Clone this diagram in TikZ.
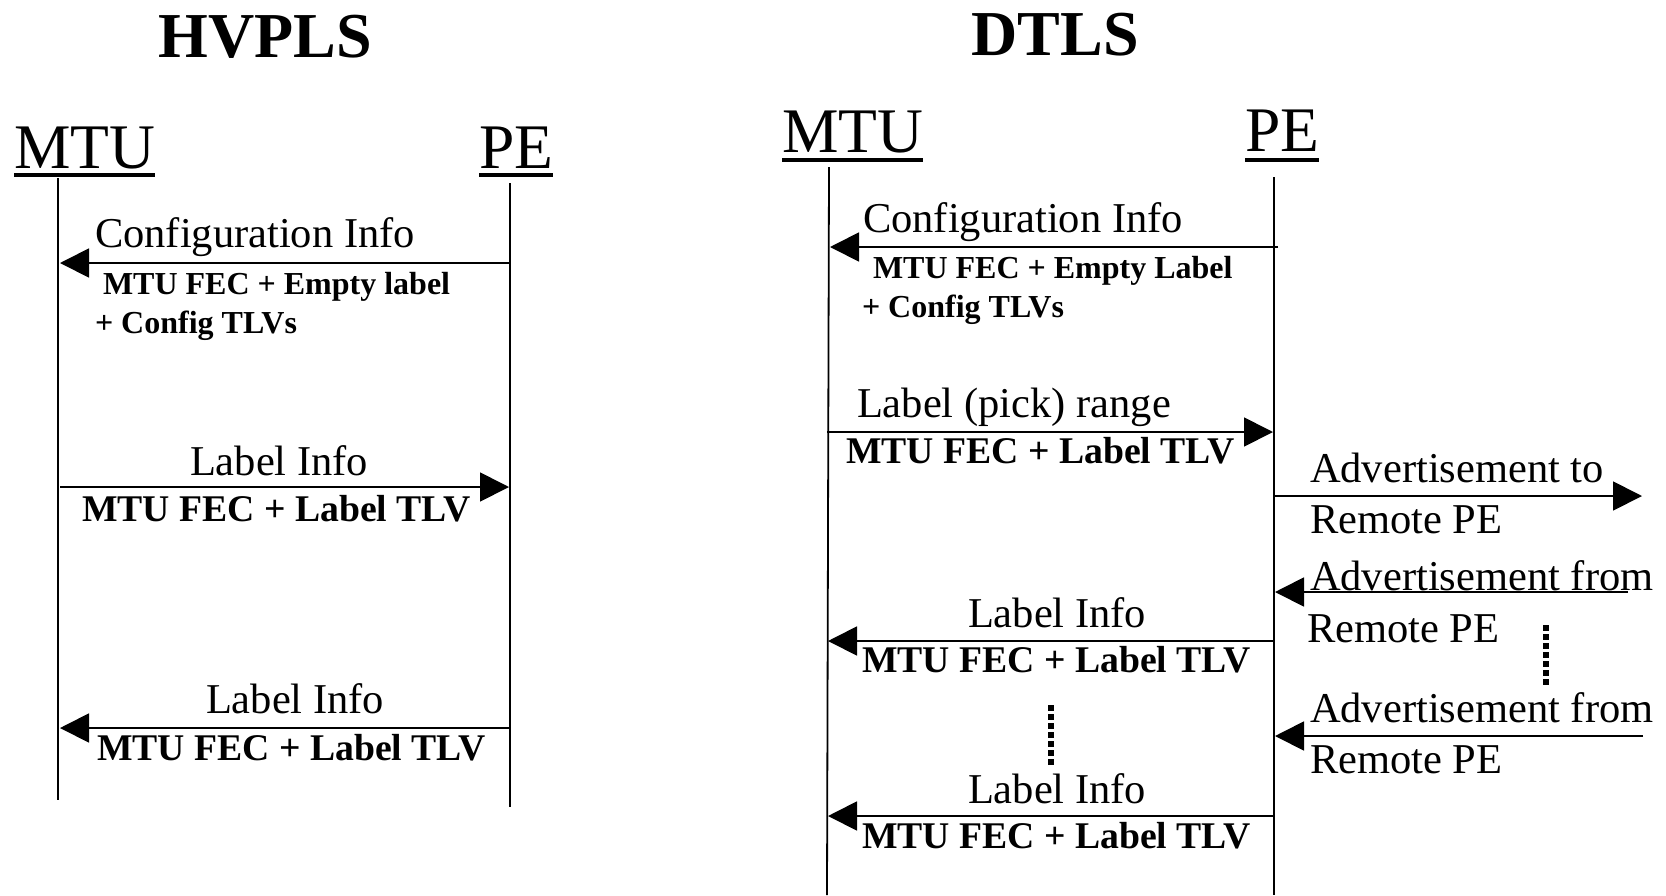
\documentclass[tikz,border=0pt]{standalone}
\usepackage{fontspec}
\setmainfont{Liberation Serif}
\usetikzlibrary{arrows.meta}
\begin{document}
\begin{tikzpicture}[x=1pt,y=-1pt,
  txt/.style={anchor=base west,inner sep=0pt,outer sep=0pt},
  ttl/.style={inner sep=0pt,anchor=base,font=\fontsize{64}{70}\selectfont\bfseries},
  actor/.style={txt,font=\fontsize{63.5}{70}\selectfont},
  msg/.style={txt,font=\fontsize{42.5}{48}\selectfont},
  lbl/.style={txt,font=\fontsize{37.7}{42}\selectfont\bfseries},
  sml/.style={txt,font=\fontsize{32}{36}\selectfont\bfseries},
  life/.style={line width=1.8pt},
  msgarrow/.style={line width=1.8pt,-{Triangle[length=29pt,width=29pt]}},
  ul/.style={line width=3.5pt},
  dots/.style={line width=6pt,dash pattern=on 6pt off 3pt}
]
\useasboundingbox (0,0) rectangle (1666,895);

% ---------------- HVPLS ----------------
\node[ttl] (t1) at (265,57) {HVPLS};
\node[actor] (mtu1) at (14,168) {MTU};
\node[actor] (pe1) at (479,168) {PE};
\draw[ul] ([yshift=-7pt]mtu1.base west) -- ([yshift=-7pt]mtu1.base east);
\draw[ul] ([yshift=-7pt]pe1.base west) -- ([yshift=-7pt]pe1.base east);

\coordinate (m1top) at (58,178);
\coordinate (m1bot) at (58,800);
\coordinate (p1top) at (510,183);
\coordinate (p1bot) at (510,807);
\draw[life] (m1top) -- (m1bot);
\draw[life] (p1top) -- (p1bot);

\coordinate (h1s) at (510,263);
\coordinate (h1e) at (60,263);
\draw[msgarrow] (h1s) -- (h1e);
\node[msg] (h1a) at (95,247) {Configuration Info};
\node[sml] (h1b) at (103,294) {MTU FEC + Empty label};
\node[sml] (h1c) at (95,333) {+ Config TLVs};

\coordinate (h2s) at (60,487);
\coordinate (h2e) at (509,487);
\draw[msgarrow] (h2s) -- (h2e);
\node[msg] (h2a) at (190,475) {Label Info};
\node[lbl] (h2b) at (82,521) {MTU FEC + Label TLV};

\coordinate (h3s) at (510,728);
\coordinate (h3e) at (60,728);
\draw[msgarrow] (h3s) -- (h3e);
\node[msg] (h3a) at (206,713) {Label Info};
\node[lbl] (h3b) at (97,760) {MTU FEC + Label TLV};

% ---------------- DTLS ----------------
\node[ttl] (t2) at (1055,55) {DTLS};
\node[actor] (mtu2) at (782,152) {MTU};
\node[actor] (pe2) at (1245,151) {PE};
\draw[ul] ([yshift=-8pt]mtu2.base west) -- ([yshift=-8pt]mtu2.base east);
\draw[ul] ([yshift=-9pt]pe2.base west) -- ([yshift=-9pt]pe2.base east);

\coordinate (m2top) at (829,167);
\coordinate (m2bot) at (827,895);
\coordinate (p2top) at (1274,177);
\coordinate (p2bot) at (1274,895);
\draw[life] (m2top) -- (m2bot);
\draw[life] (p2top) -- (p2bot);

\coordinate (d1s) at (1278,247);
\coordinate (d1e) at (830,247);
\draw[msgarrow] (d1s) -- (d1e);
\node[msg] (d1a) at (863,232) {Configuration Info};
\node[sml] (d1b) at (873,278) {MTU FEC + Empty Label};
\node[sml] (d1c) at (862,317) {+ Config TLVs};

\coordinate (d2s) at (827,432);
\coordinate (d2e) at (1273,432);
\draw[msgarrow] (d2s) -- (d2e);
\node[msg] (d2a) at (857,417) {Label (pick) range};
\node[lbl] (d2b) at (846,463) {MTU FEC + Label TLV};

\coordinate (r1s) at (1274,496);
\coordinate (r1e) at (1642,496);
\draw[msgarrow] (r1s) -- (r1e);
\node[msg] (r1a) at (1310,482) {Advertisement to};
\node[msg] (r1b) at (1310,533) {Remote PE};

\node[msg] (r2a) at (1310,590) {Advertisement from};
\coordinate (r2s) at (1628,592);
\coordinate (r2e) at (1275,592);
\draw[msgarrow] (r2s) -- (r2e);
\node[msg] (r2b) at (1307,642) {Remote PE};

\coordinate (rdt) at (1546,625);
\coordinate (rdb) at (1546,687);
\draw[dots] (rdt) -- (rdb);

\coordinate (r3s) at (1643,736);
\coordinate (r3e) at (1275,736);
\draw[msgarrow] (r3s) -- (r3e);
\node[msg] (r3a) at (1310,722) {Advertisement from};
\node[msg] (r3b) at (1310,773) {Remote PE};

\coordinate (d3s) at (1274,641);
\coordinate (d3e) at (828,641);
\draw[msgarrow] (d3s) -- (d3e);
\node[msg] (d3a) at (968,627) {Label Info};
\node[lbl] (d3b) at (862,672) {MTU FEC + Label TLV};

\coordinate (ddt) at (1051,705);
\coordinate (ddb) at (1051,767);
\draw[dots] (ddt) -- (ddb);

\coordinate (d4s) at (1274,816);
\coordinate (d4e) at (828,816);
\draw[msgarrow] (d4s) -- (d4e);
\node[msg] (d4a) at (968,803) {Label Info};
\node[lbl] (d4b) at (862,848) {MTU FEC + Label TLV};
\end{tikzpicture}
\end{document}
